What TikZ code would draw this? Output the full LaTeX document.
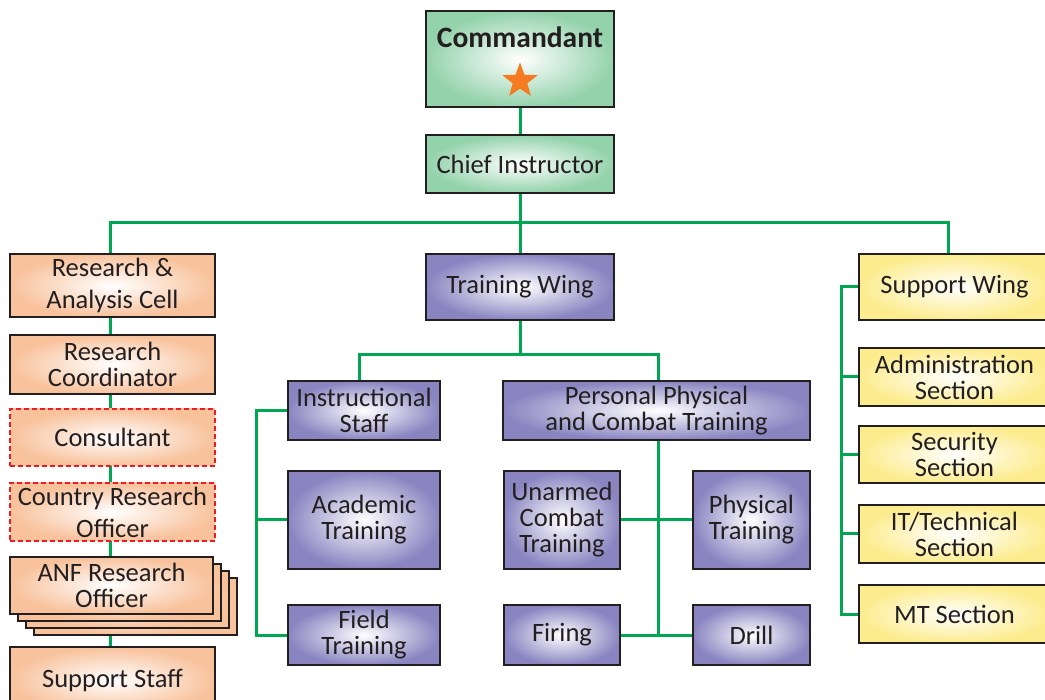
\documentclass[tikz,border=0pt]{standalone}
\usepackage{fontspec}
\setmainfont{Carlito}
\usetikzlibrary{shapes.geometric,backgrounds}
\definecolor{lgreen}{HTML}{00A651}
\definecolor{gbox}{HTML}{93D2AB}
\definecolor{pbox}{HTML}{8A85C1}
\definecolor{obox}{HTML}{F8C29C}
\definecolor{ybox}{HTML}{FCEC8E}
\definecolor{dred}{HTML}{ED1C24}
\definecolor{starc}{HTML}{F47B20}
\definecolor{edge}{HTML}{231F20}
\begin{document}
\begin{tikzpicture}[x=1pt,y=-1pt,
  box/.style={draw=edge, line width=2.6pt, inner sep=0pt, align=center, text=edge,
    font=\fontsize{26.5}{26}\selectfont, shading=radial, inner color=white},
  gb/.style={box, outer color=gbox},
  pb/.style={box, outer color=pbox},
  ob/.style={box, outer color=obox},
  yb/.style={box, outer color=ybox},
  dashbox/.style={ob, draw=dred, line width=2.4pt, dash pattern=on 5pt off 3pt},
  conn/.style={draw=lgreen, line width=3pt}]
\useasboundingbox (0,0) rectangle (1045,700);
% top
\node[gb, minimum width=188pt, minimum height=96pt] (cmd) at (520,59) {};
\node[font=\fontsize{29.5}{30}\selectfont\bfseries, text=edge, inner sep=0pt] (cmdtxt) at (520,37) {Commandant};
\node[star, star points=5, star point ratio=2.4, fill=starc, inner sep=0pt, minimum size=37pt] (star) at (520,81) {};
\node[gb, minimum width=188pt, minimum height=58pt] (chief) at (520,164) {Chief Instructor};
\node[pb, minimum width=188pt, minimum height=66pt] (tw) at (520,287) {Training Wing};
% left column
\node[ob, minimum width=205pt, minimum height=63pt] (ra) at (112.5,285.5) {Research \&\\[6pt]Analysis Cell};
\node[ob, minimum width=205pt, minimum height=59pt] (rc) at (112.5,364.5) {Research\\Coordinator};
\node[dashbox, minimum width=205pt, minimum height=57pt] (cons) at (112.5,437.5) {Consultant};
\node[dashbox, minimum width=205pt, minimum height=58pt] (cro) at (112.5,512) {Country Research\\[6pt]Officer};
\node[ob, minimum width=203pt, minimum height=57pt] (anfc) at (135.5,606.5) {};
\node[ob, minimum width=203pt, minimum height=57pt] (anfb) at (127.5,599.5) {};
\node[ob, minimum width=203pt, minimum height=57pt] (anfa) at (119.5,592.5) {};
\node[ob, minimum width=203pt, minimum height=57pt] (anf) at (111.5,585.5) {ANF Research\\Officer};
\node[ob, minimum width=205pt, minimum height=66pt] (ss) at (112.5,680) {Support Staff};
% training wing
\node[pb, minimum width=152pt, minimum height=59pt] (is) at (364,410.5) {Instructional\\Staff};
\node[pb, minimum width=307pt, minimum height=59pt] (ppct) at (656.5,410.5) {Personal Physical\\and Combat Training};
\node[pb, minimum width=152pt, minimum height=98pt] (ac) at (364,520) {Academic\\Training};
\node[pb, minimum width=152pt, minimum height=60pt] (ft) at (364,635) {Field\\Training};
\node[pb, minimum width=116pt, minimum height=98pt] (uct) at (562,520) {Unarmed\\Combat\\Training};
\node[pb, minimum width=117pt, minimum height=98pt] (pt) at (751.5,520) {Physical\\Training};
\node[pb, minimum width=116pt, minimum height=60pt] (fir) at (562,635) {Firing};
\node[pb, minimum width=117pt, minimum height=60pt] (drill) at (751.5,635) {Drill};
% support wing
\node[yb, minimum width=191pt, minimum height=66pt] (sw) at (954.5,287) {Support Wing};
\node[yb, minimum width=191pt, minimum height=58pt] (adm) at (954.5,377) {Administration\\Section};
\node[yb, minimum width=191pt, minimum height=57pt] (sec) at (954.5,454.5) {Security\\Section};
\node[yb, minimum width=191pt, minimum height=58pt] (it) at (954.5,534) {IT/Technical\\Section};
\node[yb, minimum width=191pt, minimum height=58pt] (mt) at (954.5,614) {MT Section};
% connectors
\coordinate (bus) at (520,223);
\coordinate (tbus) at (520,355);
\begin{scope}[on background layer]
\draw[conn] (cmd.south) -- (chief.north);
\draw[conn] (chief.south) -- (bus);
\draw[conn] ([xshift=-2.5pt]ra.north) |- (bus) -| ([xshift=-6.5pt]sw.north);
\draw[conn] (bus) -- (tw.north);
\draw[conn] ([xshift=-2.5pt]ra.south) -- ([xshift=-2.5pt]ss.north);
\draw[conn] (tw.south) -- (tbus);
\draw[conn] ([xshift=-5pt]is.north) |- (tbus) -| ([xshift=1.5pt]ppct.north);
\draw[conn] (is.west) -- ++(-30,0) |- (ft.west);
\draw[conn] (ac.west) -- ++(-30,0);
\draw[conn] ([xshift=1.5pt]ppct.south) -- ([xshift=1.5pt]ppct.south |- fir.center);
\draw[conn] (uct.east) -- (pt.west);
\draw[conn] (fir.east) -- (drill.west);
\draw[conn] (sw.west) -- ++(-16,0) |- (mt.west);
\draw[conn] (adm.west) -- ++(-16,0);
\draw[conn] (sec.west) -- ++(-16,0);
\draw[conn] (it.west) -- ++(-16,0);
\end{scope}
\end{tikzpicture}
\end{document}
